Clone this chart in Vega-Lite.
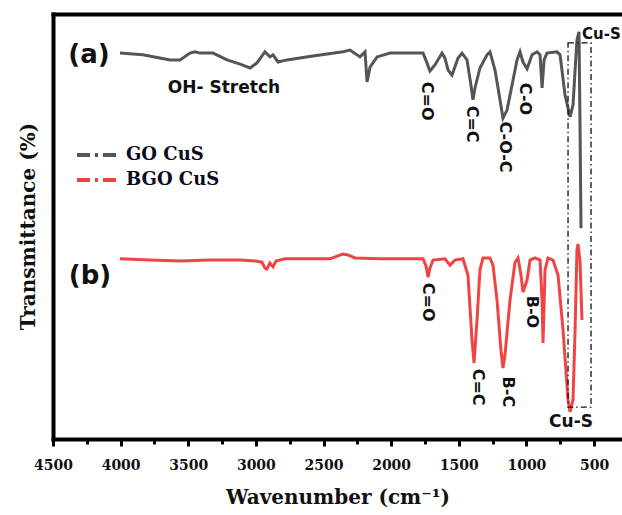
{
  "$schema": "https://vega.github.io/schema/vega-lite/v6.json",
  "width": 569,
  "height": 425,
  "autosize": "none",
  "padding": {"left": 53, "top": 14, "right": 0, "bottom": 76},
  "background": "white",
  "config": {"view": {"stroke": null}},
  "datasets": {
    "spectra": [
      {"series": "GO CuS", "wn": 4005, "t": 90.8},
      {"series": "GO CuS", "wn": 3835, "t": 90.4},
      {"series": "GO CuS", "wn": 3635, "t": 89.2},
      {"series": "GO CuS", "wn": 3561, "t": 89.2},
      {"series": "GO CuS", "wn": 3487, "t": 90.8},
      {"series": "GO CuS", "wn": 3450, "t": 91.1},
      {"series": "GO CuS", "wn": 3413, "t": 90.8},
      {"series": "GO CuS", "wn": 3317, "t": 90.8},
      {"series": "GO CuS", "wn": 3213, "t": 89.2},
      {"series": "GO CuS", "wn": 3117, "t": 88.2},
      {"series": "GO CuS", "wn": 3043, "t": 87.3},
      {"series": "GO CuS", "wn": 2992, "t": 88.5},
      {"series": "GO CuS", "wn": 2933, "t": 91.1},
      {"series": "GO CuS", "wn": 2896, "t": 89.9},
      {"series": "GO CuS", "wn": 2873, "t": 90.4},
      {"series": "GO CuS", "wn": 2836, "t": 88.7},
      {"series": "GO CuS", "wn": 2770, "t": 89.2},
      {"series": "GO CuS", "wn": 2578, "t": 90.1},
      {"series": "GO CuS", "wn": 2356, "t": 91.1},
      {"series": "GO CuS", "wn": 2304, "t": 91.5},
      {"series": "GO CuS", "wn": 2230, "t": 89.9},
      {"series": "GO CuS", "wn": 2193, "t": 91.1},
      {"series": "GO CuS", "wn": 2178, "t": 84.0},
      {"series": "GO CuS", "wn": 2156, "t": 87.5},
      {"series": "GO CuS", "wn": 2104, "t": 89.9},
      {"series": "GO CuS", "wn": 2008, "t": 90.8},
      {"series": "GO CuS", "wn": 1764, "t": 90.8},
      {"series": "GO CuS", "wn": 1735, "t": 88.5},
      {"series": "GO CuS", "wn": 1713, "t": 86.6},
      {"series": "GO CuS", "wn": 1676, "t": 88.0},
      {"series": "GO CuS", "wn": 1624, "t": 90.8},
      {"series": "GO CuS", "wn": 1602, "t": 89.6},
      {"series": "GO CuS", "wn": 1579, "t": 86.8},
      {"series": "GO CuS", "wn": 1550, "t": 85.6},
      {"series": "GO CuS", "wn": 1506, "t": 89.6},
      {"series": "GO CuS", "wn": 1476, "t": 90.8},
      {"series": "GO CuS", "wn": 1439, "t": 89.2},
      {"series": "GO CuS", "wn": 1410, "t": 83.3},
      {"series": "GO CuS", "wn": 1395, "t": 79.8},
      {"series": "GO CuS", "wn": 1380, "t": 82.6},
      {"series": "GO CuS", "wn": 1343, "t": 87.3},
      {"series": "GO CuS", "wn": 1291, "t": 90.4},
      {"series": "GO CuS", "wn": 1269, "t": 91.1},
      {"series": "GO CuS", "wn": 1232, "t": 86.8},
      {"series": "GO CuS", "wn": 1195, "t": 79.8},
      {"series": "GO CuS", "wn": 1173, "t": 75.5},
      {"series": "GO CuS", "wn": 1143, "t": 77.4},
      {"series": "GO CuS", "wn": 1106, "t": 83.3},
      {"series": "GO CuS", "wn": 1069, "t": 89.2},
      {"series": "GO CuS", "wn": 1047, "t": 91.1},
      {"series": "GO CuS", "wn": 1025, "t": 88.7},
      {"series": "GO CuS", "wn": 995, "t": 87.1},
      {"series": "GO CuS", "wn": 958, "t": 90.4},
      {"series": "GO CuS", "wn": 921, "t": 91.1},
      {"series": "GO CuS", "wn": 899, "t": 90.4},
      {"series": "GO CuS", "wn": 884, "t": 82.6},
      {"series": "GO CuS", "wn": 869, "t": 89.2},
      {"series": "GO CuS", "wn": 848, "t": 90.8},
      {"series": "GO CuS", "wn": 774, "t": 91.1},
      {"series": "GO CuS", "wn": 751, "t": 90.4},
      {"series": "GO CuS", "wn": 737, "t": 86.8},
      {"series": "GO CuS", "wn": 714, "t": 80.9},
      {"series": "GO CuS", "wn": 677, "t": 75.8},
      {"series": "GO CuS", "wn": 655, "t": 78.6},
      {"series": "GO CuS", "wn": 640, "t": 86.8},
      {"series": "GO CuS", "wn": 626, "t": 93.9},
      {"series": "GO CuS", "wn": 611, "t": 95.8},
      {"series": "GO CuS", "wn": 603, "t": 72.7},
      {"series": "GO CuS", "wn": 596, "t": 49.6},
      {"series": "BGO CuS", "wn": 4005, "t": 42.4},
      {"series": "BGO CuS", "wn": 3783, "t": 42.1},
      {"series": "BGO CuS", "wn": 3561, "t": 41.9},
      {"series": "BGO CuS", "wn": 3339, "t": 42.1},
      {"series": "BGO CuS", "wn": 3117, "t": 42.1},
      {"series": "BGO CuS", "wn": 3006, "t": 41.9},
      {"series": "BGO CuS", "wn": 2955, "t": 41.6},
      {"series": "BGO CuS", "wn": 2933, "t": 40.2},
      {"series": "BGO CuS", "wn": 2918, "t": 40.0},
      {"series": "BGO CuS", "wn": 2896, "t": 41.4},
      {"series": "BGO CuS", "wn": 2873, "t": 40.5},
      {"series": "BGO CuS", "wn": 2851, "t": 41.9},
      {"series": "BGO CuS", "wn": 2785, "t": 42.4},
      {"series": "BGO CuS", "wn": 2452, "t": 42.4},
      {"series": "BGO CuS", "wn": 2393, "t": 43.1},
      {"series": "BGO CuS", "wn": 2356, "t": 43.5},
      {"series": "BGO CuS", "wn": 2319, "t": 43.3},
      {"series": "BGO CuS", "wn": 2267, "t": 42.6},
      {"series": "BGO CuS", "wn": 2082, "t": 42.4},
      {"series": "BGO CuS", "wn": 1764, "t": 42.4},
      {"series": "BGO CuS", "wn": 1742, "t": 40.7},
      {"series": "BGO CuS", "wn": 1727, "t": 38.1},
      {"series": "BGO CuS", "wn": 1713, "t": 40.2},
      {"series": "BGO CuS", "wn": 1690, "t": 42.1},
      {"series": "BGO CuS", "wn": 1602, "t": 42.4},
      {"series": "BGO CuS", "wn": 1565, "t": 40.9},
      {"series": "BGO CuS", "wn": 1528, "t": 42.1},
      {"series": "BGO CuS", "wn": 1469, "t": 42.4},
      {"series": "BGO CuS", "wn": 1432, "t": 38.6},
      {"series": "BGO CuS", "wn": 1402, "t": 23.3},
      {"series": "BGO CuS", "wn": 1387, "t": 17.9},
      {"series": "BGO CuS", "wn": 1365, "t": 28.0},
      {"series": "BGO CuS", "wn": 1343, "t": 39.8},
      {"series": "BGO CuS", "wn": 1321, "t": 42.6},
      {"series": "BGO CuS", "wn": 1269, "t": 42.6},
      {"series": "BGO CuS", "wn": 1247, "t": 40.9},
      {"series": "BGO CuS", "wn": 1217, "t": 32.7},
      {"series": "BGO CuS", "wn": 1188, "t": 20.9},
      {"series": "BGO CuS", "wn": 1173, "t": 16.7},
      {"series": "BGO CuS", "wn": 1158, "t": 19.8},
      {"series": "BGO CuS", "wn": 1121, "t": 32.7},
      {"series": "BGO CuS", "wn": 1084, "t": 41.6},
      {"series": "BGO CuS", "wn": 1062, "t": 42.6},
      {"series": "BGO CuS", "wn": 1040, "t": 38.6},
      {"series": "BGO CuS", "wn": 1025, "t": 34.6},
      {"series": "BGO CuS", "wn": 995, "t": 37.4},
      {"series": "BGO CuS", "wn": 973, "t": 42.1},
      {"series": "BGO CuS", "wn": 936, "t": 42.6},
      {"series": "BGO CuS", "wn": 899, "t": 42.1},
      {"series": "BGO CuS", "wn": 884, "t": 32.7},
      {"series": "BGO CuS", "wn": 877, "t": 22.6},
      {"series": "BGO CuS", "wn": 862, "t": 39.8},
      {"series": "BGO CuS", "wn": 840, "t": 42.6},
      {"series": "BGO CuS", "wn": 803, "t": 42.1},
      {"series": "BGO CuS", "wn": 766, "t": 38.6},
      {"series": "BGO CuS", "wn": 729, "t": 25.6},
      {"series": "BGO CuS", "wn": 692, "t": 9.2},
      {"series": "BGO CuS", "wn": 677, "t": 6.4},
      {"series": "BGO CuS", "wn": 655, "t": 9.2},
      {"series": "BGO CuS", "wn": 640, "t": 25.6},
      {"series": "BGO CuS", "wn": 626, "t": 44.5},
      {"series": "BGO CuS", "wn": 618, "t": 45.9},
      {"series": "BGO CuS", "wn": 603, "t": 41.6},
      {"series": "BGO CuS", "wn": 589, "t": 28.0}
    ]
  },
  "resolve": {"axis": {"x": "independent", "y": "independent"}},
  "layer": [
    {
      "data": {"name": "spectra"},
      "mark": {"type": "line", "strokeWidth": 3, "interpolate": "linear"},
      "encoding": {
        "x": {
          "field": "wn", "type": "quantitative",
          "scale": {"domain": [4500, 293], "nice": false, "zero": false},
          "axis": {
            "orient": "bottom",
            "values": [4500, 4000, 3500, 3000, 2500, 2000, 1500, 1000, 500],
            "format": "d",
            "grid": false,
            "domain": true, "domainColor": "black", "domainWidth": 4, "domainCap": "square",
            "ticks": true, "tickColor": "black", "tickWidth": 3, "tickSize": 7,
            "labelFont": "DejaVu Serif", "labelFontWeight": "bold", "labelFontSize": 14,
            "labelColor": "#111", "labelPadding": 12, "labelFlush": false, "labelOverlap": false,
            "title": "Wavenumber (cm⁻¹)",
            "titleFont": "DejaVu Serif", "titleFontWeight": "bold", "titleFontSize": 20,
            "titleColor": "#111", "titleY": 58, "titleBaseline": "middle"
          }
        },
        "y": {
          "field": "t", "type": "quantitative",
          "scale": {"domain": [0, 100], "nice": false, "zero": false},
          "axis": {
            "orient": "left",
            "grid": false, "ticks": false, "labels": false,
            "domain": true, "domainColor": "black", "domainWidth": 4, "domainCap": "square",
            "title": "Transmittance (%)",
            "titleFont": "DejaVu Serif", "titleFontWeight": "bold", "titleFontSize": 20,
            "titleColor": "#111", "titleAngle": -90, "titleX": -25, "titleY": 212,
            "titleBaseline": "middle", "titleAlign": "center"
          }
        },
        "color": {
          "field": "series", "type": "nominal",
          "scale": {"domain": ["GO CuS", "BGO CuS"], "range": ["#555555", "#f04444"]},
          "legend": {
            "orient": "none", "legendX": 22, "legendY": 131,
            "title": null, "padding": 0,
            "symbolType": "stroke", "symbolSize": 1849, "symbolStrokeWidth": 4,
            "symbolDash": [13, 5, 3, 5],
            "clipHeight": 20, "rowPadding": 5,
            "labelFont": "DejaVu Serif", "labelFontWeight": "bold", "labelFontSize": 18,
            "labelColor": "#0b0b20", "labelOffset": 4
          }
        },
        "detail": {"field": "series"}
      }
    },
    {
      "data": {"values": [{"box": "Cu-S region", "x1": 692, "x2": 522, "y1": 93.2, "y2": 7.5}]},
      "mark": {"type": "rect", "fill": null, "fillOpacity": 0, "stroke": "#111", "strokeWidth": 1.3, "strokeDash": [6, 3, 1.5, 3]},
      "encoding": {
        "x": {
          "field": "x1", "type": "quantitative",
          "scale": {"domain": [4500, 293], "nice": false, "zero": false},
          "axis": {
            "orient": "bottom",
            "values": [4250, 3750, 3250, 2750, 2250, 1750, 1250, 750],
            "grid": false, "domain": false, "labels": false, "title": null,
            "ticks": true, "tickColor": "black", "tickWidth": 3, "tickSize": 5
          }
        },
        "x2": {"field": "x2"},
        "y": {"field": "y1", "type": "quantitative", "axis": null},
        "y2": {"field": "y2"}
      }
    },
    {
      "data": {"values": [
        {"label": "C=O", "wn": 1735, "t": 79.5},
        {"label": "C=C", "wn": 1402, "t": 74.1},
        {"label": "C-O-C", "wn": 1158, "t": 68.7},
        {"label": "C-O", "wn": 1010, "t": 80.0},
        {"label": "C=O", "wn": 1727, "t": 32.2},
        {"label": "C=C", "wn": 1358, "t": 12.2},
        {"label": "B-C", "wn": 1136, "t": 11.1},
        {"label": "B-O", "wn": 958, "t": 29.9}
      ]},
      "mark": {"type": "text", "angle": 90, "align": "center", "baseline": "middle", "font": "DejaVu Sans", "fontWeight": "bold", "fontSize": 16, "color": "#111"},
      "encoding": {
        "x": {
          "field": "wn", "type": "quantitative",
          "scale": {"domain": [4500, 293], "nice": false, "zero": false},
          "axis": {
            "orient": "top", "grid": false, "ticks": false, "labels": false, "title": null,
            "domain": true, "domainColor": "black", "domainWidth": 4, "domainCap": "square"
          }
        },
        "y": {"field": "t", "type": "quantitative", "axis": null},
        "text": {"field": "label"}
      }
    },
    {
      "data": {"values": [{"label": "OH- Stretch", "wn": 3236, "t": 82.6}]},
      "mark": {"type": "text", "align": "center", "baseline": "middle", "font": "DejaVu Sans", "fontWeight": "bold", "fontSize": 17, "color": "#111"},
      "encoding": {
        "x": {"field": "wn", "type": "quantitative", "axis": null},
        "y": {"field": "t", "type": "quantitative", "axis": null},
        "text": {"field": "label"}
      }
    },
    {
      "data": {"values": [{"label": "Cu-S", "wn": 589, "t": 95.3}]},
      "mark": {"type": "text", "align": "left", "baseline": "middle", "font": "DejaVu Sans", "fontWeight": "bold", "fontSize": 15, "color": "#111"},
      "encoding": {
        "x": {"field": "wn", "type": "quantitative", "axis": null},
        "y": {"field": "t", "type": "quantitative", "axis": null},
        "text": {"field": "label"}
      }
    },
    {
      "data": {"values": [{"label": "Cu-S", "wn": 670, "t": 4.0}]},
      "mark": {"type": "text", "align": "center", "baseline": "middle", "font": "DejaVu Sans", "fontWeight": "bold", "fontSize": 17, "color": "#111"},
      "encoding": {
        "x": {"field": "wn", "type": "quantitative", "axis": null},
        "y": {"field": "t", "type": "quantitative", "axis": null},
        "text": {"field": "label"}
      }
    },
    {
      "data": {"values": [{"label": "(a)", "wn": 4234, "t": 90.4}, {"label": "(b)", "wn": 4226, "t": 38.4}]},
      "mark": {"type": "text", "align": "center", "baseline": "middle", "font": "DejaVu Sans", "fontWeight": "bold", "fontSize": 26, "color": "#111"},
      "encoding": {
        "x": {"field": "wn", "type": "quantitative", "axis": null},
        "y": {"field": "t", "type": "quantitative", "axis": null},
        "text": {"field": "label"}
      }
    }
  ]
}
